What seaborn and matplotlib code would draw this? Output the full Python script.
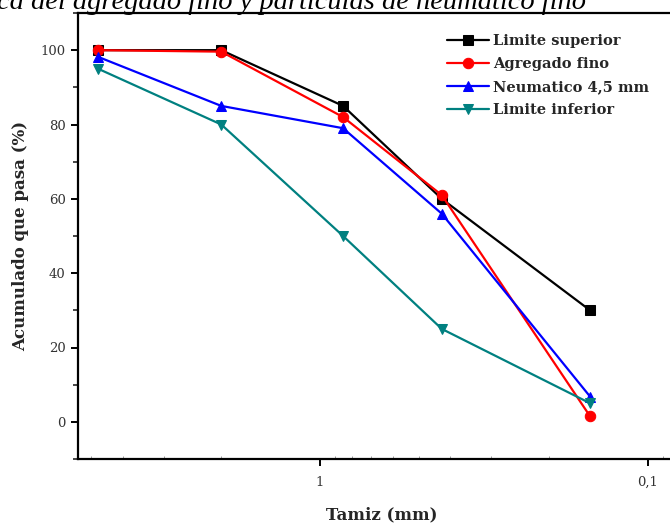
import matplotlib
matplotlib.use("Agg")
import matplotlib.pyplot as plt
import matplotlib.ticker as mticker
import seaborn as sns
import pandas as pd

# Data
tamiz_mm = [4.75, 2.0, 0.85, 0.425, 0.15]
limite_superior = [100, 100, 85, 60, 30]
agregado_fino = [100, 99.6, 82, 61, 1.5]
neumatico = [98.2, 85, 79, 56, 6.8]
limite_inferior = [95, 80, 50, 25, 5]
series_names = ["Limite superior", "Agregado fino", "Neumatico 4,5 mm", "Limite inferior"]
series_values = [limite_superior, agregado_fino, neumatico, limite_inferior]
x_tick_values = [1, 0.1]
x_tick_labels = ["1", "0,1"]
colors = ["#000000", "#ff0000", "#0000ff", "#008080"]
markers = ["s", "o", "^", "v"]

sns.set_theme(style="ticks")
plt.rcParams["font.family"] = ["DejaVu Serif"]

fig = plt.figure(figsize=(6.7, 5.25), dpi=100)
W, H = 670, 525
left, right, top, bottom = 78, 685, 13, 459
ax = fig.add_axes([left / W, 1 - bottom / H, (right - left) / W, (bottom - top) / H])

for name, vals, c, m in zip(series_names, series_values, colors, markers):
    df = pd.DataFrame({"Tamiz": tamiz_mm, "Pasa": vals})
    sns.lineplot(data=df, x="Tamiz", y="Pasa", ax=ax, color=c, marker=m,
                 markersize=7.5, markeredgecolor=c, linewidth=1.6, label=name)

ax.set_xscale("log")
ax.set_xlim(5.47, 0.077)
ax.set_ylim(-10, 110)

ax.xaxis.set_major_locator(mticker.FixedLocator(x_tick_values))
ax.xaxis.set_major_formatter(mticker.FixedFormatter(x_tick_labels))
ax.xaxis.set_minor_locator(mticker.LogLocator(base=10, subs=range(2, 10)))
ax.xaxis.set_minor_formatter(mticker.NullFormatter())
ax.yaxis.set_major_locator(mticker.MultipleLocator(20))
ax.yaxis.set_minor_locator(mticker.MultipleLocator(10))

for s in ["left", "bottom", "top"]:
    ax.spines[s].set_linewidth(1.6)
    ax.spines[s].set_color("black")
ax.spines["right"].set_visible(False)

ax.tick_params(axis="both", which="major", direction="out", length=5, width=1.4,
               labelsize=9.5, colors="black", labelcolor="#333333", pad=4)
ax.tick_params(axis="y", which="minor", direction="out", length=3.5, width=1.2)
ax.tick_params(axis="x", which="minor", direction="in", length=2, width=0.6,
               color="#888888")
ax.tick_params(axis="x", which="major", pad=7)

ax.set_xlabel("Tamiz (mm)", fontsize=12, fontweight="bold", labelpad=13)
ax.set_ylabel("Acumulado que pasa (%)", fontsize=12, fontweight="bold", labelpad=8)

leg = ax.legend(loc="upper left",
                bbox_to_anchor=((441 - left) / (right - left), 1 - 15 / (bottom - top)),
                frameon=False, prop={"weight": "bold", "size": 10.5},
                handlelength=2.9, handletextpad=0.25, labelspacing=0.62, borderaxespad=0)

fig.text(-0.005, 1 - 9 / H, "ca del agregado fino y partículas de neumático fino",
         ha="left", va="baseline", fontsize=20.5, style="italic", color="black",
         family=["Liberation Serif", "DejaVu Serif"])

fig.savefig("out.png", dpi=100)
